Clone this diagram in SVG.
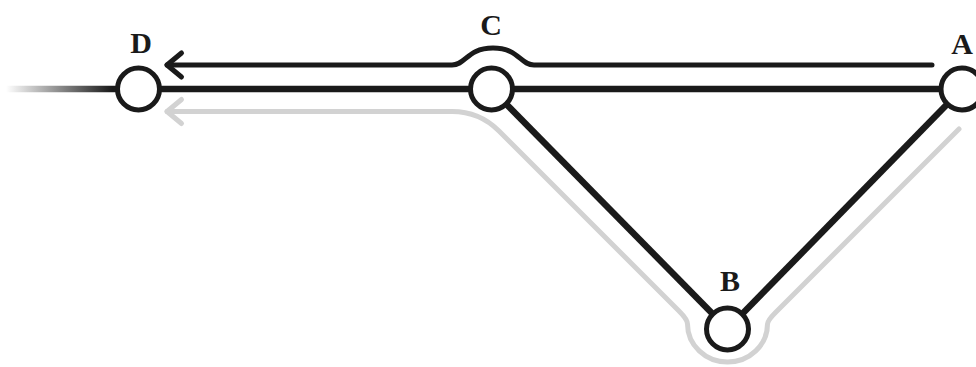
<svg xmlns="http://www.w3.org/2000/svg" width="976" height="367" viewBox="0 0 976 367">
  <style>
    .edge { fill: none; stroke: #1a1a1a; stroke-width: 6.5; }
    .route { fill: none; stroke: #1a1a1a; stroke-width: 5; stroke-linecap: round; stroke-linejoin: round; }
    .route-alt { fill: none; stroke: #d2d2d2; stroke-width: 5; stroke-linecap: round; stroke-linejoin: round; }
    .stop { fill: #ffffff; stroke: #1a1a1a; stroke-width: 5; }
    .label { font-family: "Liberation Serif", "DejaVu Serif", serif; font-weight: bold; font-size: 30px; fill: #1a1a1a; text-anchor: middle; }
  </style>
  <defs>
    <linearGradient id="fade" gradientUnits="userSpaceOnUse" x1="6" y1="0" x2="112" y2="0">
      <stop offset="0" stop-color="#1a1a1a" stop-opacity="0"/>
      <stop offset="1" stop-color="#1a1a1a" stop-opacity="1"/>
    </linearGradient>
  </defs>

  <g id="connectors">
    <!-- incoming track fading out to the left -->
    <line x1="6" y1="89" x2="138.5" y2="89" stroke="url(#fade)" stroke-width="6.5"/>
    <!-- track segments -->
    <line class="edge" x1="138.5" y1="89" x2="491.5" y2="89"/>
    <line class="edge" x1="491.5" y1="89" x2="962" y2="89"/>
    <line class="edge" x1="491.5" y1="89" x2="727.5" y2="329"/>
    <line class="edge" x1="727.5" y1="329" x2="962" y2="89"/>
    <!-- direct route A to D, hopping over C -->
    <path class="route" d="M932,65 H534 C520,65 519,48 493,48 C467,48 466,65 452,65 H167"/>
    <polyline class="route" points="181.5,53 167,65 181.5,77"/>
    <!-- detour route A to B to C to D -->
    <path class="route-alt" d="M959,129 L776,312 Q767.5,320.5 767.5,324 A40,38 0 0 1 687.5,324 Q687.5,319.5 679,311 L499,131 Q479.5,111.5 452,111.5 H167"/>
    <polyline class="route-alt" points="181.5,99.5 167,111.5 181.5,123.5"/>
  </g>

  <g id="node-D">
    <circle class="stop" cx="138.5" cy="89" r="21"/>
    <text class="label" x="141" y="53">D</text>
  </g>
  <g id="node-C">
    <circle class="stop" cx="491.5" cy="89" r="21"/>
    <text class="label" x="491" y="35">C</text>
  </g>
  <g id="node-A">
    <circle class="stop" cx="962" cy="89" r="21"/>
    <text class="label" x="962" y="54">A</text>
  </g>
  <g id="node-B">
    <circle class="stop" cx="727.5" cy="329" r="21"/>
    <text class="label" x="730" y="291">B</text>
  </g>
</svg>
